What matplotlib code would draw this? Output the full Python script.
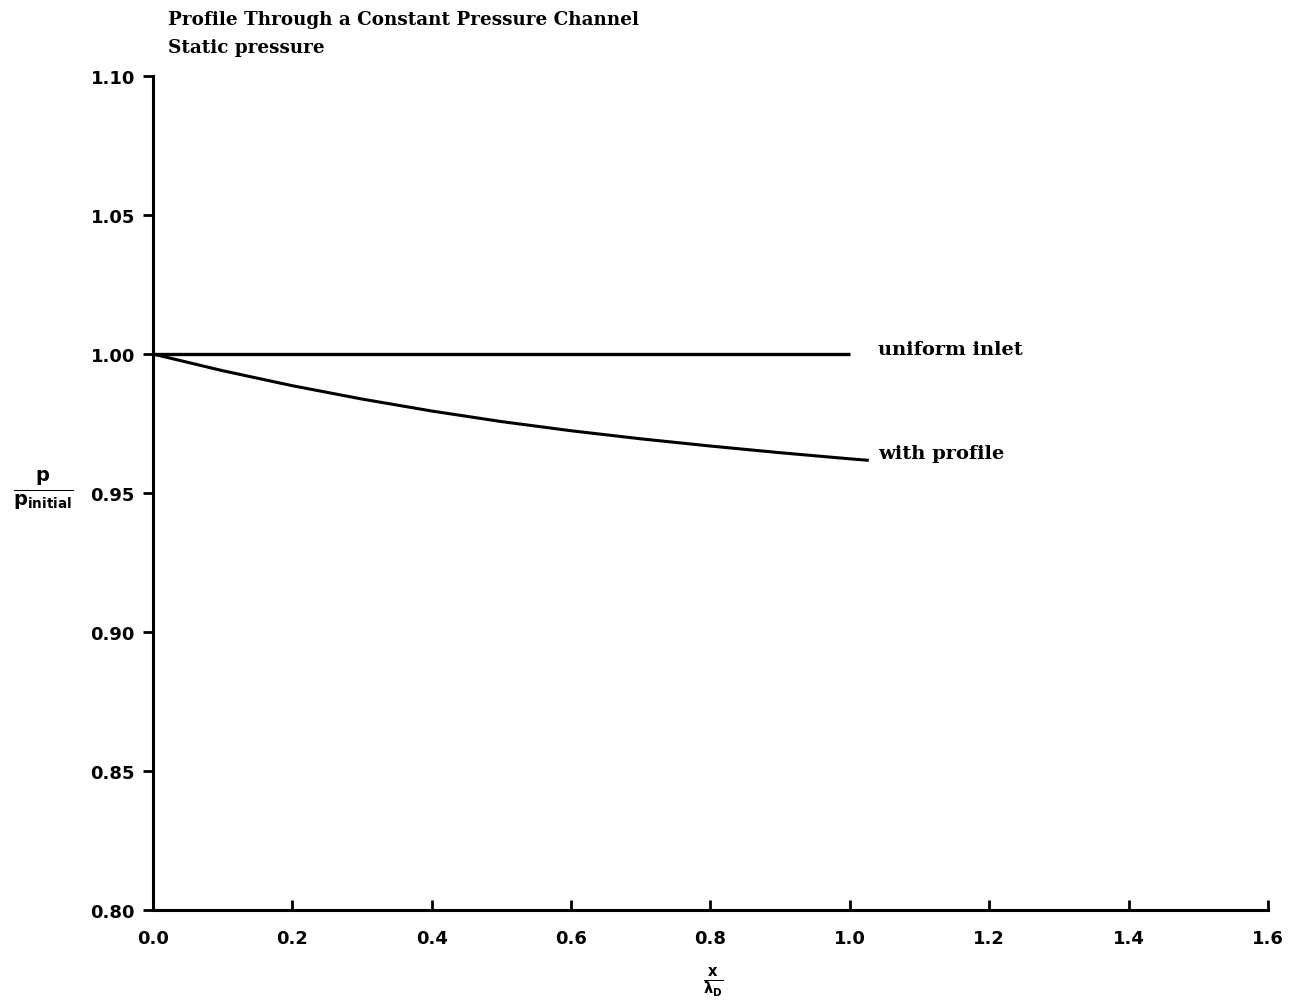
import matplotlib
matplotlib.use("Agg")
import matplotlib.pyplot as plt

# Non-dimensional distance along the channel and static pressure ratio
x_uniform = [0.0, 1.0]
p_uniform = [1.0, 1.0]

x_profile = [0.0, 0.1, 0.2, 0.3, 0.4, 0.5, 0.6, 0.7, 0.8, 0.9, 1.0, 1.025]
p_profile = [1.000, 0.9940, 0.9886, 0.9838, 0.9795, 0.9757, 0.9724,
             0.9695, 0.9669, 0.9645, 0.9623, 0.9618]

x_ticks = [0.0, 0.2, 0.4, 0.6, 0.8, 1.0, 1.2, 1.4, 1.6]
y_ticks = [0.80, 0.85, 0.90, 0.95, 1.00, 1.05, 1.10]

title_lines = ["Profile Through a Constant Pressure Channel", "Static pressure"]

serif = "DejaVu Serif"
sans = "DejaVu Sans"

fig = plt.figure(figsize=(12.99, 10.03), dpi=100)
ax = fig.add_axes([0.1178, 0.0917, 0.8583, 0.8315])

ax.plot(x_uniform, p_uniform, color="black", lw=2.4, solid_capstyle="butt")
ax.plot(x_profile, p_profile, color="black", lw=2.2,
        solid_joinstyle="round")

ax.text(1.04, 1.0018, "uniform inlet", fontsize=14, fontweight="bold",
        family=serif, va="center", ha="left")
ax.text(1.04, p_profile[-1] + 0.0025, "with profile", fontsize=14,
        fontweight="bold", family=serif, va="center", ha="left")

ax.set_xlim(0.0, 1.6)
ax.set_ylim(0.80, 1.10)
ax.set_xticks(x_ticks)
ax.set_xticklabels([f"{v:.1f}" for v in x_ticks])
ax.set_yticks(y_ticks)
ax.set_yticklabels([f"{v:.2f}" for v in y_ticks])

for side in ("top", "right"):
    ax.spines[side].set_visible(False)
for side in ("left", "bottom"):
    ax.spines[side].set_linewidth(2.2)

ax.tick_params(axis="x", direction="in", length=7, width=2, pad=14,
               labelsize=13)
ax.tick_params(axis="y", direction="out", length=7, width=2, pad=6,
               labelsize=13)
for lab in ax.get_xticklabels() + ax.get_yticklabels():
    lab.set_fontweight("bold")
    lab.set_family(sans)

fig.text(168 / 1299, 1 - 20 / 1003, title_lines[0], fontsize=13.2,
         fontweight="bold", family=serif, va="center", ha="left")
fig.text(168 / 1299, 1 - 48 / 1003, title_lines[1], fontsize=13.2,
         fontweight="bold", family=serif, va="center", ha="left")

# Axis labels written as fractions
fig.text(43 / 1299, 1 - 490 / 1003,
         r"$\mathbf{\frac{p}{p_{initial}}}$", fontsize=20,
         va="center", ha="center")
fig.text(713 / 1299, 1 - 982 / 1003,
         r"$\mathbf{\frac{x}{\lambda_D}}$", fontsize=15,
         va="center", ha="center")

fig.savefig("out.png", dpi=100)
